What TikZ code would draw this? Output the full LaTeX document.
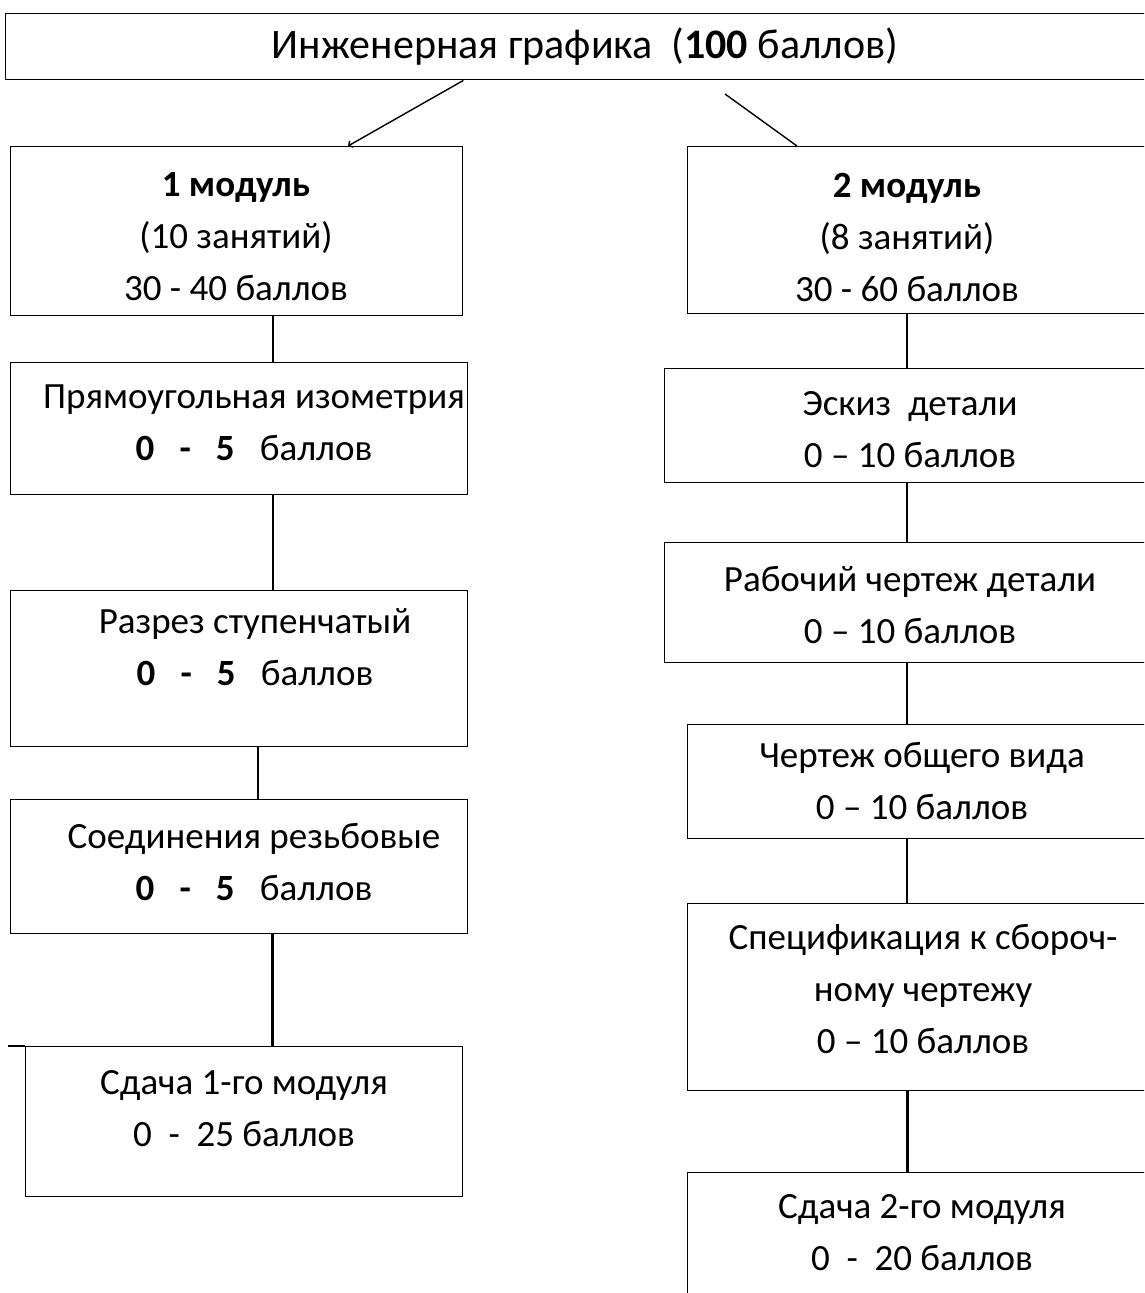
\documentclass[tikz,border=0pt]{standalone}
\usepackage{fontspec}
\setmainfont{Carlito}
\usetikzlibrary{positioning, arrows.meta}

\begin{document}
\begin{tikzpicture}[x=1pt, y=-1pt, line width=1.4pt,
	frame/.style={draw, rectangle, anchor=north west, inner sep=0},
	txt/.style={align=center, inner sep=0, font=\fontsize{37}{52}\selectfont}]
\useasboundingbox (0,0) rectangle (1144,1293);
\clip (0,0) rectangle (1144,1293);
% frames
\node[frame, minimum width=1160, minimum height=66] (top) at (5,13) {};
\node[frame, minimum width=452, minimum height=169] (l1) at (10,146) {};
\node[frame, minimum width=457, minimum height=132] (l2) at (10,362) {};
\node[frame, minimum width=457, minimum height=156] (l3) at (10,590) {};
\node[frame, minimum width=457, minimum height=134] (l4) at (10,799) {};
\node[frame, minimum width=437, minimum height=150] (l5) at (25,1046) {};
\node[frame, minimum width=480, minimum height=167] (r1) at (687,146) {};
\node[frame, minimum width=503, minimum height=114] (r2) at (664,368) {};
\node[frame, minimum width=503, minimum height=120] (r3) at (664,542) {};
\node[frame, minimum width=480, minimum height=114] (r4) at (687,724) {};
\node[frame, minimum width=480, minimum height=187] (r5) at (687,903) {};
\node[frame, minimum width=480, minimum height=160] (r6) at (687,1172) {};
% texts
\node[txt, font=\fontsize{42}{52}\selectfont] (topt) at (585,47) {Инженерная графика\ \ (\textbf{100} баллов)};
\node[txt] (l1t) at (236,237) {\textbf{1 модуль}\\(10 занятий)\\30 - 40 баллов};
\node[txt] (l2t) at (254,423) {Прямоугольная изометрия\\\textbf{0\ \ \ -\ \ \ 5}\ \ \ баллов};
\node[txt] (l3t) at (255,647) {Разрез ступенчатый\\\textbf{0\ \ \ -\ \ \ 5}\ \ \ баллов};
\node[txt] (l4t) at (254,862) {Соединения резьбовые\\\textbf{0\ \ \ -\ \ \ 5}\ \ \ баллов};
\node[txt] (l5t) at (244,1109) {Сдача 1-го модуля\\0\ \ -\ \ 25 баллов};
\node[txt] (r1t) at (907,237) {\textbf{2 модуль}\\(8 занятий)\\30 - 60 баллов};
\node[txt] (r2t) at (910,430) {Эскиз\ \ детали\\0 – 10 баллов};
\node[txt] (r3t) at (910,605) {Рабочий чертеж детали\\0 – 10 баллов};
\node[txt] (r4t) at (922,781) {Чертеж общего вида\\0 – 10 баллов};
\node[txt] (r5t) at (923,989) {Спецификация к сбороч-\\ному чертежу\\0 – 10 баллов};
\node[txt] (r6t) at (922,1233) {Сдача 2-го модуля\\0\ \ -\ \ 20 баллов};
% connectors
\coordinate (b1) at (725,94);
\draw[-{Straight Barb[length=3pt,width=7pt]}] (top.south -| l1.north east) -- (l1.north -| 348,0);
\draw (b1) -- (r1.north -| 797,0);
\foreach \a/\b/\x in {l1/l2/273, l2/l3/273, l3/l4/258, r1/r2/907, r2/r3/907, r3/r4/907, r4/r5/907}
	\draw (\a.south -| \x,0) -- (\b.north -| \x,0);
\draw[line width=3pt] (l4.south -| 272,0) -- (l5.north -| 272,0);
\draw[line width=3pt] (r5.south -| 907,0) -- (r6.north -| 907,0);
\draw (l5.north west) -- ++(-17,0);
\end{tikzpicture}
\end{document}
